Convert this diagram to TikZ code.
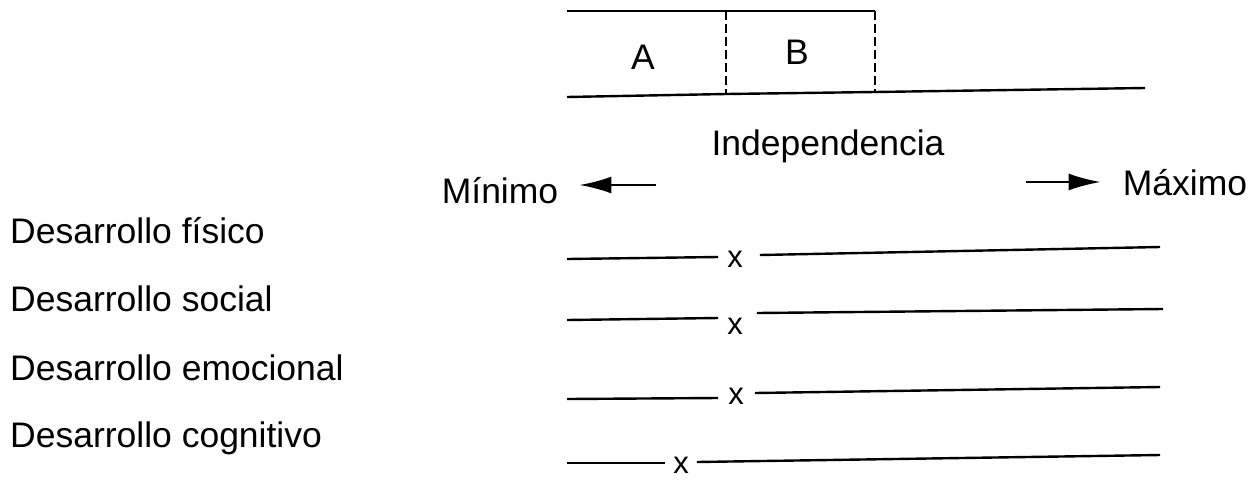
\documentclass[tikz,border=0pt]{standalone}
\usepackage{fontspec}
\setmainfont{Liberation Sans}
\usetikzlibrary{arrows.meta}
\begin{document}
\begin{tikzpicture}[x=1pt,y=-1pt,
  rule/.style={line width=2.4pt},
  divider/.style={line width=2.4pt,dash pattern=on 9pt off 4pt},
  lbl/.style={inner sep=0pt,font=\fontsize{35.5}{40}\selectfont},
  xmark/.style={inner sep=0pt,font=\fontsize{31}{34}\selectfont},
  pointer/.style={line width=2.4pt,-{Latex[length=32pt,width=17pt]}}]
\useasboundingbox (0,0) rectangle (1253,483);

% top band with the two zones A and B
\coordinate (tl) at (567,11);
\coordinate (tm) at (726,11);
\coordinate (tr) at (875,11);
\coordinate (bl) at (567,97);
\coordinate (bm) at (726,94);
\coordinate (br) at (875,92);
\coordinate (be) at (1145,88);
\draw[rule] (tl) -- (tm) -- (tr);
\draw[rule] (bl) -- (bm) -- (br) -- (be);
\draw[divider] (tm) -- (bm);
\draw[divider] (tr) -- (br);
\node[lbl] (zA) at (643,57) {A};
\node[lbl] (zB) at (797,52) {B};

% scale heading and direction arrows
\node[lbl] (ind) at (828,146) {Independencia};
\node[lbl] (min) at (500,191) {Mínimo};
\node[lbl] (max) at (1185,183) {Máximo};
\coordinate (minS) at (656,185);
\coordinate (maxS) at (1026,182);
\draw[pointer] (minS) -- ([xshift=21pt]min.east |- minS);
\draw[pointer] (maxS) -- ([xshift=-22pt]max.west |- maxS);

% row labels
\node[lbl,anchor=west] (r1) at (10,231) {Desarrollo físico};
\node[lbl,anchor=west] (r2) at (10,299) {Desarrollo social};
\node[lbl,anchor=west] (r3) at (10,368) {Desarrollo emocional};
\node[lbl,anchor=west] (r4) at (10,438) {Desarrollo cognitivo};

% rating lines with their marks
\node[xmark] (x1) at (735,259) {x};
\node[xmark] (x2) at (735,326) {x};
\node[xmark] (x3) at (736,396) {x};
\node[xmark] (x4) at (681,465) {x};

\coordinate (a1) at (567,259); \coordinate (e1) at (1160,247);
\coordinate (a2) at (567,320); \coordinate (e2) at (1163,309);
\coordinate (a3) at (567,399); \coordinate (e3) at (1160,387);
\coordinate (a4) at (567,463); \coordinate (e4) at (1160,455);

\draw[rule] (a1) -- ([xshift=-9pt,yshift=2pt]x1.west);
\draw[rule] ([xshift=17pt,yshift=4pt]x1.east) -- (e1);
\draw[rule] (a2) -- ([xshift=-9pt,yshift=8pt]x2.west);
\draw[rule] ([xshift=14pt,yshift=13pt]x2.east) -- (e2);
\draw[rule] (a3) -- ([xshift=-10pt,yshift=-2pt]x3.west);
\draw[rule] ([xshift=11pt,yshift=3pt]x3.east) -- (e3);
\draw[rule] (a4) -- ([xshift=-8pt,yshift=2pt]x4.west);
\draw[rule] ([xshift=8pt,yshift=3pt]x4.east) -- (e4);
\end{tikzpicture}
\end{document}
